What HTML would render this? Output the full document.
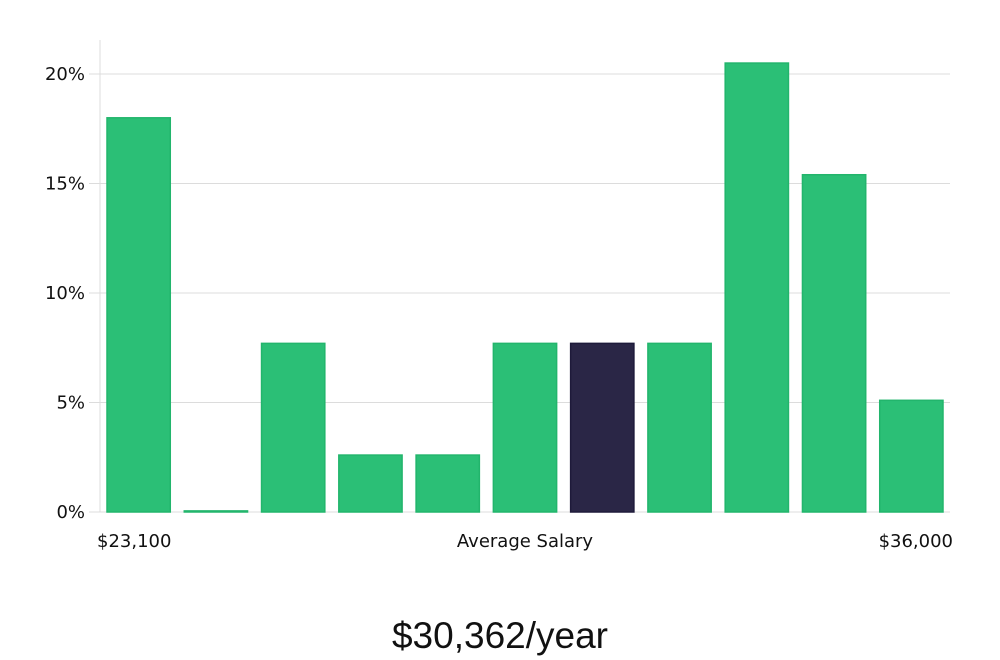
<!DOCTYPE html>
<html><head><meta charset="utf-8"><style>
body{margin:0;background:#fff;}
svg{display:block;font-family:"DejaVu Sans","Liberation Sans",sans-serif;}
</style></head><body>
<svg id="chart" width="1000" height="660" viewBox="0 0 1000 660"></svg>
<script>
const categories=["b1","b2","b3","b4","b5","b6","b7","b8","b9","b10","b11"];
const values=[18.0,0.05,7.7,2.6,2.6,7.7,7.7,7.7,20.5,15.4,5.1];
const highlightIndex=6;
const yTicks=[0,5,10,15,20];
const yTickLabels=["0%","5%","10%","15%","20%"];
const NS="http://www.w3.org/2000/svg";
const svg=document.getElementById('chart');
const x0=100,x1=950,yBase=512,pxPer=21.9;
const y=v=>yBase-v*pxPer;
const pitch=(x1-x0)/categories.length;
function mk(t,a,p){const e=document.createElementNS(NS,t);for(const k in a)e.setAttribute(k,a[k]);(p||svg).appendChild(e);return e;}
const grid=mk('g',{});


yTicks.forEach((t,i)=>{
  const l=mk('line',{x1:89,x2:x1,y1:y(t),y2:y(t),stroke:'#dcdcdc','stroke-width':1},grid);
  
  
  const tx=mk('text',{x:85,y:y(t)+6,'text-anchor':'end','font-size':18,fill:'#111'});
  tx.textContent=yTickLabels[i];
  
  
});
const ax=mk('line',{x1:x0,x2:x0,y1:40,y2:yBase,stroke:'#dcdcdc','stroke-width':1});


values.forEach((v,i)=>{
  const bx=x0+i*pitch+7, w=pitch-14;
  const h=Math.max(v*pxPer,1);
  const r=mk('rect',{x:bx,y:yBase-h,width:w,height:h,fill:i===highlightIndex?'#2a2646':'#2bbf76',stroke:i===highlightIndex?'#1e1a3a':'#22b56c','stroke-width':1.5});
  
  
});
function txt(s,x,yy,anchor,size,name,extra){const t=mk('text',Object.assign({x:x,y:yy,'text-anchor':anchor,'font-size':size,fill:'#111'},extra||{}));t.textContent=s;return t;}
txt('$23,100',97,547,'start',18,'x-min-label');
txt('Average Salary',525,547,'middle',18,'x-axis-title');
txt('$36,000',953,547,'end',18,'x-max-label');
txt('$30,362/year',500,648,'middle',37,'average-salary-value',{'font-family':'"Liberation Sans",sans-serif','font-weight':'300'});
</script>
</body></html>
